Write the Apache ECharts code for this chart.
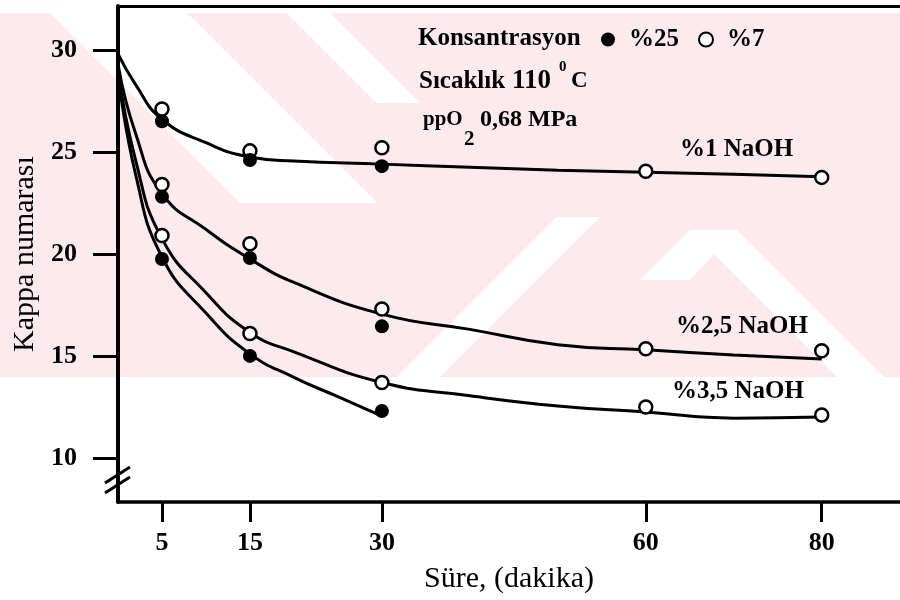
<!DOCTYPE html>
<html>
<head>
<meta charset="utf-8">
<script src="https://cdn.jsdelivr.net/npm/echarts@6/dist/echarts.min.js"></script>
<style>html,body{margin:0;padding:0;background:#fff}#c{width:900px;height:600px}</style>
</head>
<body>
<div id="c"></div>
<script>
// ---- data ----
const xTicks = [5, 15, 30, 60, 80];
const yTicks = [10, 15, 20, 25, 30];
const times = [5, 15, 30, 60, 80];

// measured points: concentration %25 (filled) only at 5, 15, 30 min
const naoh1_c25 = [26.5, 24.6, 24.3];
const naoh1_c7 = [27.1, 25.05, 25.2, 24.05, 23.75];
const naoh25_c25 = [22.8, 19.8, 16.45];
const naoh25_c7 = [23.4, 20.5, 17.3, 15.35, 15.25];
const naoh35_c25 = [19.75, 15.0, 12.3];
const naoh35_c7 = [20.9, 16.1, 13.7, 12.5, 12.1];

// fitted curves
const curveXLong = [0, 2, 5, 10, 15, 20, 30, 40, 50, 60, 70, 80];
const curve1 = [29.8, 28.3, 26.6, 25.45, 24.75, 24.55, 24.4, 24.25, 24.1, 24.0, 23.9, 23.78];
const curve25 = [29.3, 25.9, 22.95, 21.2, 19.75, 18.6, 17.05, 16.3, 15.55, 15.3, 15.05, 14.85];
const curve35open = [29.0, 24.6, 20.75, 18.1, 16.15, 15.2, 13.7, 13.05, 12.55, 12.25, 11.95, 12.0];
const curveXShort = [0, 2, 5, 10, 15, 20, 25, 30];
const curve35filled = [28.8, 23.9, 19.85, 17.1, 15.1, 13.95, 13.0, 12.05];

const FONT = '"Liberation Serif", "Times New Roman", serif';

function pairs(xs, ys) { return ys.map((y, i) => [xs[i], y]); }
const filledPts = [].concat(pairs(times, naoh1_c25), pairs(times, naoh25_c25), pairs(times, naoh35_c25));
const openPts = [].concat(pairs(times, naoh1_c7), pairs(times, naoh25_c7), pairs(times, naoh35_c7));

function curve(name, xs, ys) {
  return {
    name: name, type: 'line', data: pairs(xs, ys), showSymbol: false, symbol: 'none',
    smooth: 0.5, z: 2, silent: true,
    lineStyle: { color: '#000', width: 3 }
  };
}

function txt(x, y, text, size, extra) {
  return Object.assign({
    type: 'text', x: x, y: y, z: 10,
    style: { text: text, font: 'bold ' + size + 'px ' + FONT, fill: '#000', align: 'left', verticalAlign: 'middle' }
  }, extra || {});
}

// faint watermark of the scanned page (pink band with white diagonal stripes)
const PINK = '#fdeaee';
function band(points) {
  return { type: 'polygon', z: -5, silent: true, shape: { points: points }, style: { fill: '#fff' } };
}
const watermark = [
  { type: 'rect', z: -6, silent: true, shape: { x: 0, y: 13, width: 900, height: 364 }, style: { fill: PINK } },
  band([[50, 13], [187, 13], [377, 203], [240, 203]]),
  band([[287, 13], [330, 13], [420, 103], [377, 103]]),
  band([[397, 377], [440, 377], [600, 217], [557, 217]]),
  band([[640, 280], [690, 230], [737, 230], [690, 280]]),
  band([[690, 230], [737, 230], [884, 377], [837, 377]])
];

const chart = echarts.init(document.getElementById('c'), null, { renderer: 'canvas' });
chart.setOption({
  animation: false,
  backgroundColor: '#fff',
  grid: { left: 118, top: 6, right: 0, bottom: 98, show: false },
  legend: {
    data: ['%25', '%7'], left: 601, top: 27, padding: 0, icon: 'circle', itemWidth: 14, itemHeight: 14, itemGap: 19,
    textStyle: { fontFamily: FONT, fontWeight: 'bold', fontSize: 25, color: '#000', padding: [0, 0, 0, 9] }
  },
  xAxis: [{
    type: 'value', min: 0, max: 88.9,
    axisLine: { lineStyle: { color: '#000', width: 3.5 } },
    axisTick: { show: true, inside: false, length: 20, lineStyle: { color: '#000', width: 3 }, customValues: xTicks },
    axisLabel: { customValues: xTicks, fontFamily: FONT, fontWeight: 'bold', fontSize: 26, color: '#000', margin: 28 },
    splitLine: { show: false },
    name: 'Süre, (dakika)', nameLocation: 'middle', nameGap: 62,
    nameTextStyle: { fontFamily: FONT, fontSize: 30, color: '#000' }
  }, {
    type: 'value', min: 0, max: 88.9, position: 'top',
    axisLine: { show: true, lineStyle: { color: '#000', width: 3 } },
    axisTick: { show: false }, axisLabel: { show: false }, splitLine: { show: false }
  }],
  yAxis: {
    type: 'value', min: 7.84, max: 32.15,
    axisLine: { lineStyle: { color: '#000', width: 4 } },
    axisTick: { show: true, inside: false, length: 25, lineStyle: { color: '#000', width: 3 }, customValues: yTicks },
    axisLabel: { customValues: yTicks, fontFamily: FONT, fontWeight: 'bold', fontSize: 26, color: '#000', margin: 41 },
    splitLine: { show: false },
    name: 'Kappa numarası', nameLocation: 'middle', nameGap: 78, nameRotate: 90,
    nameTextStyle: { fontFamily: FONT, fontSize: 30, color: '#000' }
  },
  series: [
    curve('%1 NaOH', curveXLong, curve1),
    curve('%2,5 NaOH', curveXLong, curve25),
    curve('%3,5 NaOH (%7)', curveXLong, curve35open),
    curve('%3,5 NaOH (%25)', curveXShort, curve35filled),
    { name: '%7', type: 'scatter', data: openPts, symbol: 'circle', symbolSize: 13, z: 3,
      itemStyle: { color: '#fff', borderColor: '#000', borderWidth: 2.5, opacity: 1 } },
    { name: '%25', type: 'scatter', data: filledPts, symbol: 'circle', symbolSize: 14, z: 4,
      itemStyle: { color: '#000', opacity: 1 } }
  ],
  graphic: watermark.concat([
    txt(418, 38.5, 'Konsantrasyon', 25),
    txt(419, 81.5, 'Sıcaklık', 25),
    txt(512, 81.5, '110', 27),
    txt(559, 67, '0', 15),
    txt(571, 81.5, 'C', 23),
    txt(423, 120, 'ppO', 21),
    txt(464, 140, '2', 21),
    txt(480, 119.5, '0,68 MPa', 24),
    txt(680, 149.5, '%1 NaOH', 25),
    txt(676, 326.5, '%2,5 NaOH', 25),
    txt(672, 391.5, '%3,5 NaOH', 25),
    { type: 'line', z: 10, shape: { x1: 105, y1: 483, x2: 130, y2: 467 }, style: { stroke: '#000', lineWidth: 3 } },
    { type: 'line', z: 10, shape: { x1: 105, y1: 493, x2: 130, y2: 477 }, style: { stroke: '#000', lineWidth: 3 } }
  ])
});
</script>
</body>
</html>
